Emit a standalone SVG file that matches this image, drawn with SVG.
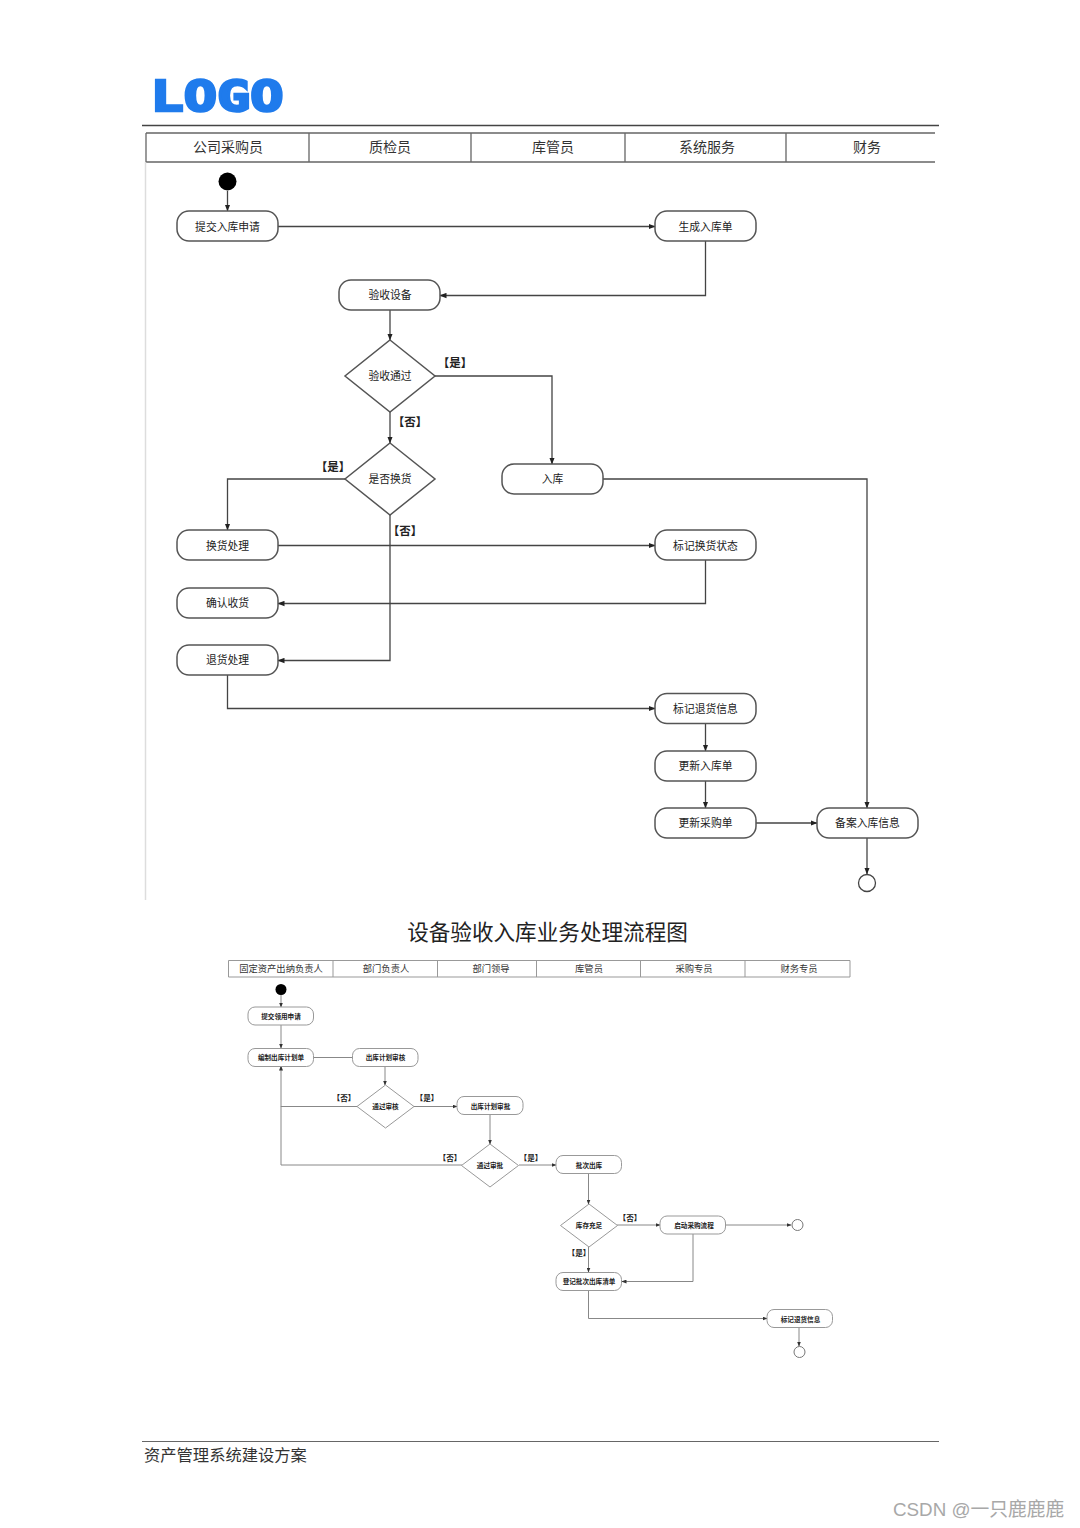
<svg xmlns="http://www.w3.org/2000/svg" width="1080" height="1528" viewBox="0 0 1080 1528">
<style>
text{font-family:"Noto Sans CJK SC","Noto Sans",sans-serif;text-anchor:middle;dominant-baseline:central;fill:#222;transform:translateY(-1px)}
.hd{font-size:14px;fill:#333}
.a{fill:#fff;stroke:#555;stroke-width:1.5}
.at{font-size:10.800px;fill:#222}
.lb{font-size:11.500px;font-weight:700}
.c{fill:none;stroke:#444;stroke-width:1.3}
.c2{fill:none;stroke:#888;stroke-width:1}
.h{fill:none;stroke:#666;stroke-width:1.3}
.h2{fill:none;stroke:#999;stroke-width:1}
.b{fill:#fff;stroke:#999;stroke-width:1}
.bt{font-size:6.600px;font-weight:700}
.bl{font-size:7.600px;font-weight:700}
.bh{font-size:9.300px;fill:#333}
</style>
<defs>
<marker id="m" markerWidth="7" markerHeight="6" refX="6.500" refY="3" orient="auto" markerUnits="userSpaceOnUse"><path d="M0 0.300L7 3L0 5.700Z" fill="#222"/></marker>
<marker id="n" markerWidth="5" markerHeight="4" refX="4.500" refY="2" orient="auto" markerUnits="userSpaceOnUse"><path d="M0 0L5 2L0 4Z" fill="#333"/></marker>
</defs>
<rect width="1080" height="1528" fill="#fff"/>
<text id="logo" x="217" y="97" font-size="42" font-weight="700" textLength="133" lengthAdjust="spacingAndGlyphs" style="font-family:'DejaVu Sans Mono';fill:#1f7bec;stroke:#1f7bec;stroke-width:2.500">LOGO</text>
<path d="M142 125.500H939" stroke="#444" stroke-width="1.300" fill="none"/>
<g id="lanes-top">
<path d="M146 133H935M146 162H935M146 133V162M309 133V162M471 133V162M625 133V162M786 133V162" class="h"/>
<path d="M145.500 162V900" stroke="#ddd" stroke-width="1.500" fill="none"/>
<text class="hd" x="228" y="147">公司采购员</text>
<text class="hd" x="390" y="147">质检员</text>
<text class="hd" x="553" y="147">库管员</text>
<text class="hd" x="707" y="147">系统服务</text>
<text class="hd" x="867" y="147">财务</text>
</g>
<g id="connectors-top">
<path class="c" marker-end="url(#m)" d="M227.500 191V211"/>
<path class="c" marker-end="url(#m)" d="M278 226.500H655"/>
<path class="c" marker-end="url(#m)" d="M705.500 241V295.500H440"/>
<path class="c" marker-end="url(#m)" d="M390 310V340"/>
<path class="c" marker-end="url(#m)" d="M435 376H552V464"/>
<path class="c" marker-end="url(#m)" d="M390 412V443"/>
<path class="c" marker-end="url(#m)" d="M345 479H227.500V530"/>
<path class="c" marker-end="url(#m)" d="M390 515V660.500H278"/>
<path class="c" marker-end="url(#m)" d="M278 545.500H655"/>
<path class="c" marker-end="url(#m)" d="M705.500 560V603.500H278"/>
<path class="c" marker-end="url(#m)" d="M227.500 675V708.500H655"/>
<path class="c" marker-end="url(#m)" d="M705.500 723V751"/>
<path class="c" marker-end="url(#m)" d="M705.500 781V808"/>
<path class="c" marker-end="url(#m)" d="M756 823H817"/>
<path class="c" marker-end="url(#m)" d="M603 479H867V808"/>
<path class="c" marker-end="url(#m)" d="M867 838V874"/>
</g>
<circle id="start-top" cx="227.500" cy="181.500" r="9" fill="#000"/>
<g id="n-submit"><rect class="a" x="177" y="211" width="101" height="30" rx="12"/><text class="at" x="227.500" y="226.500">提交入库申请</text></g>
<g id="n-gen"><rect class="a" x="655" y="211" width="101" height="30" rx="12"/><text class="at" x="705.500" y="226.500">生成入库单</text></g>
<g id="n-check"><rect class="a" x="339" y="280" width="101" height="30" rx="12"/><text class="at" x="390" y="295">验收设备</text></g>
<g id="n-pass"><path class="a" d="M390 340L435 376L390 412L345 376Z"/><text class="at" x="390" y="376">验收通过</text></g>
<g id="n-swap"><path class="a" d="M390 443L435 479L390 515L345 479Z"/><text class="at" x="390" y="479">是否换货</text></g>
<g id="n-in"><rect class="a" x="502" y="464" width="101" height="30" rx="12"/><text class="at" x="552.500" y="479">入库</text></g>
<g id="n-do"><rect class="a" x="177" y="530" width="101" height="30" rx="12"/><text class="at" x="227.500" y="545.500">换货处理</text></g>
<g id="n-mark"><rect class="a" x="655" y="530" width="101" height="30" rx="12"/><text class="at" x="705.500" y="545.500">标记换货状态</text></g>
<g id="n-confirm"><rect class="a" x="177" y="588" width="101" height="30" rx="12"/><text class="at" x="227.500" y="603">确认收货</text></g>
<g id="n-ret"><rect class="a" x="177" y="645" width="101" height="30" rx="12"/><text class="at" x="227.500" y="660">退货处理</text></g>
<g id="n-markret"><rect class="a" x="655" y="693.500" width="101" height="30" rx="12"/><text class="at" x="705.500" y="708.500">标记退货信息</text></g>
<g id="n-upin"><rect class="a" x="655" y="751" width="101" height="30" rx="12"/><text class="at" x="705.500" y="765.500">更新入库单</text></g>
<g id="n-uppo"><rect class="a" x="655" y="808" width="101" height="30" rx="12"/><text class="at" x="705.500" y="823">更新采购单</text></g>
<g id="n-file"><rect class="a" x="817" y="808" width="101" height="30" rx="12"/><text class="at" x="867.500" y="823">备案入库信息</text></g>
<circle id="end-top" cx="867" cy="883" r="8.500" fill="#fff" stroke="#444" stroke-width="1.300"/>
<g id="labels-top">
<text class="lb" x="455" y="363">【是】</text>
<text class="lb" x="410" y="422">【否】</text>
<text class="lb" x="333" y="467">【是】</text>
<text class="lb" x="405" y="531">【否】</text>
</g>
<text id="title" x="547.500" y="931" font-size="21.600">设备验收入库业务处理流程图</text>
<g id="lanes-bottom">
<path d="M228.500 960.500H850M228.500 977H850M228.500 960.500V977M333 960.500V977M437.500 960.500V977M536.500 960.500V977M640.500 960.500V977M745 960.500V977M850 960.500V977" class="h2"/>
<text class="bh" x="281" y="969">固定资产出纳负责人</text>
<text class="bh" x="386" y="969">部门负责人</text>
<text class="bh" x="491" y="969">部门领导</text>
<text class="bh" x="589" y="969">库管员</text>
<text class="bh" x="694" y="969">采购专员</text>
<text class="bh" x="799" y="969">财务专员</text>
</g>
<g id="connectors-bottom">
<path class="c2" marker-end="url(#n)" d="M281 995V1007"/>
<path class="c2" marker-end="url(#n)" d="M281 1025V1048"/>
<path class="c2" d="M314 1057.500H353"/>
<path class="c2" marker-end="url(#n)" d="M385 1066V1085"/>
<path class="c2" marker-end="url(#n)" d="M357 1106.500H281V1066"/>
<path class="c2" marker-end="url(#n)" d="M414 1106.500H457"/>
<path class="c2" marker-end="url(#n)" d="M490 1115V1144"/>
<path class="c2" d="M462 1165H281V1106"/>
<path class="c2" marker-end="url(#n)" d="M519 1165H556"/>
<path class="c2" marker-end="url(#n)" d="M588.500 1174V1204"/>
<path class="c2" marker-end="url(#n)" d="M617 1225H660"/>
<path class="c2" marker-end="url(#n)" d="M726 1225H791"/>
<path class="c2" marker-end="url(#n)" d="M588.500 1247V1272"/>
<path class="c2" marker-end="url(#n)" d="M693 1234V1281.500H622"/>
<path class="c2" marker-end="url(#n)" d="M588.500 1291V1318.500H767"/>
<path class="c2" marker-end="url(#n)" d="M799 1327V1346"/>
</g>
<circle id="start-bottom" cx="281" cy="989.500" r="5.500" fill="#000"/>
<g id="b-apply"><rect class="b" x="248" y="1007" width="65.500" height="18" rx="7"/><text class="bt" x="281" y="1016.500">提交领用申请</text></g>
<g id="b-plan"><rect class="b" x="248" y="1048.500" width="65.500" height="18" rx="7"/><text class="bt" x="281" y="1058">编制出库计划单</text></g>
<g id="b-review"><rect class="b" x="352.500" y="1048.500" width="65.500" height="18" rx="7"/><text class="bt" x="385.500" y="1058">出库计划审核</text></g>
<g id="b-pass1"><path class="b" d="M385.500 1085L414 1106.500L385.500 1128L357 1106.500Z"/><text class="bt" x="385.500" y="1107">通过审核</text></g>
<g id="b-appr"><rect class="b" x="457" y="1096.500" width="66" height="18" rx="7"/><text class="bt" x="490.500" y="1106.500">出库计划审批</text></g>
<g id="b-pass2"><path class="b" d="M490 1144L518.500 1165.500L490 1187L461.500 1165.500Z"/><text class="bt" x="490" y="1166">通过审批</text></g>
<g id="b-batch"><rect class="b" x="556" y="1155.500" width="65.500" height="18" rx="7"/><text class="bt" x="589" y="1166">批次出库</text></g>
<g id="b-stock"><path class="b" d="M589 1204L617.500 1225.500L589 1247L560.500 1225.500Z"/><text class="bt" x="589" y="1226">库存充足</text></g>
<g id="b-buy"><rect class="b" x="660" y="1216" width="65.500" height="18" rx="7"/><text class="bt" x="694" y="1226">启动采购流程</text></g>
<g id="b-list"><rect class="b" x="556" y="1272.500" width="65.500" height="18" rx="7"/><text class="bt" x="589" y="1282">登记批次出库清单</text></g>
<g id="b-back"><rect class="b" x="767" y="1309.500" width="65.500" height="18" rx="7"/><text class="bt" x="800.500" y="1319.500">标记退货信息</text></g>
<circle id="end-b1" cx="797.500" cy="1225" r="5.500" fill="#fff" stroke="#777"/>
<circle id="end-b2" cx="799.500" cy="1352" r="5.500" fill="#fff" stroke="#777"/>
<g id="labels-bottom">
<text class="bl" x="344" y="1098.500">【否】</text>
<text class="bl" x="427" y="1098.500">【是】</text>
<text class="bl" x="450" y="1158.500">【否】</text>
<text class="bl" x="531" y="1158.500">【是】</text>
<text class="bl" x="630" y="1218.500">【否】</text>
<text class="bl" x="579" y="1253.500">【是】</text>
</g>
<path d="M142 1441.500H939" stroke="#666" stroke-width="1.200" fill="none"/>
<text id="footer" x="144" y="1455" font-size="16.300" style="text-anchor:start;fill:#333">资产管理系统建设方案</text>
<text id="watermark" x="893" y="1510" font-size="18.800" style="text-anchor:start;fill:#a8a8a8;font-family:'Liberation Sans','Noto Sans CJK SC',sans-serif">CSDN @一只鹿鹿鹿</text>
</svg>
